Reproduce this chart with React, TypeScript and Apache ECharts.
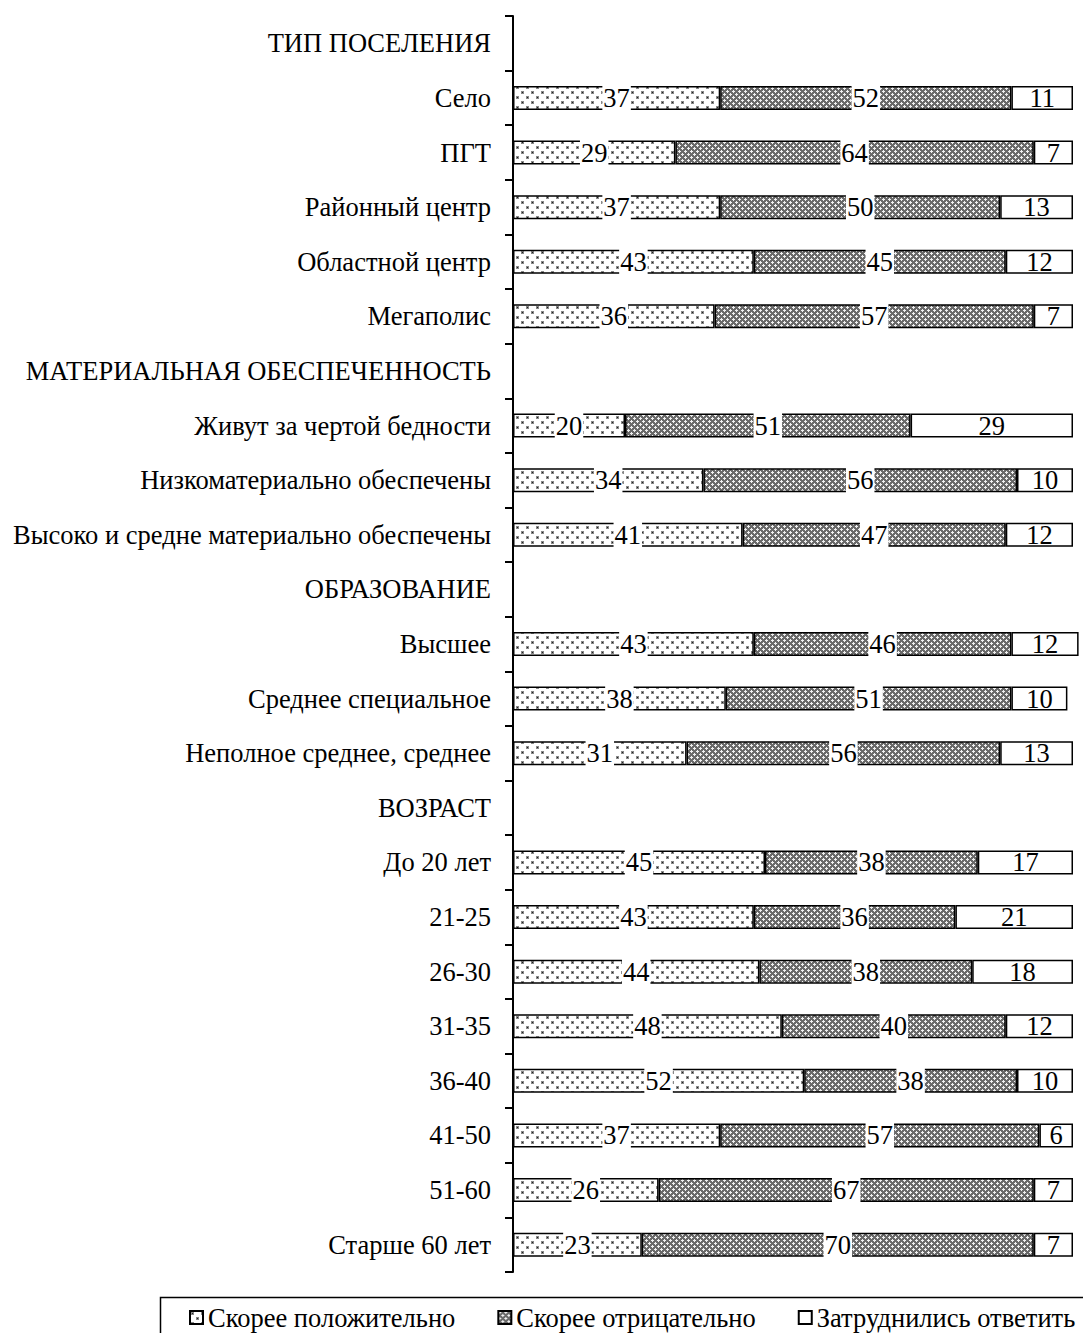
import React, { useEffect, useRef } from "react";
import * as echarts from "echarts";

const categories = [
  "ТИП ПОСЕЛЕНИЯ",
  "Село",
  "ПГТ",
  "Районный центр",
  "Областной центр",
  "Мегаполис",
  "МАТЕРИАЛЬНАЯ ОБЕСПЕЧЕННОСТЬ",
  "Живут за чертой бедности",
  "Низкоматериально обеспечены",
  "Высоко и средне материально обеспечены",
  "ОБРАЗОВАНИЕ",
  "Высшее",
  "Среднее специальное",
  "Неполное среднее, среднее",
  "ВОЗРАСТ",
  "До 20 лет",
  "21-25",
  "26-30",
  "31-35",
  "36-40",
  "41-50",
  "51-60",
  "Старше 60 лет",
];

const positive = [null, 37, 29, 37, 43, 36, null, 20, 34, 41, null, 43, 38, 31, null, 45, 43, 44, 48, 52, 37, 26, 23];
const negative = [null, 52, 64, 50, 45, 57, null, 51, 56, 47, null, 46, 51, 56, null, 38, 36, 38, 40, 38, 57, 67, 70];
const undecided = [null, 11, 7, 13, 12, 7, null, 29, 10, 12, null, 12, 10, 13, null, 17, 21, 18, 12, 10, 6, 7, 7];

const seriesNames = ["Скорее положительно", "Скорее отрицательно", "Затруднились ответить"];

function dotPattern(): HTMLCanvasElement {
  const c = document.createElement("canvas");
  c.width = 10;
  c.height = 10;
  const ctx = c.getContext("2d")!;
  ctx.fillStyle = "#ffffff";
  ctx.fillRect(0, 0, 10, 10);
  ctx.fillStyle = "#888888";
  ctx.fillRect(1, 1, 3, 3);
  ctx.fillRect(6, 6, 3, 3);
  ctx.fillStyle = "#222222";
  ctx.fillRect(2, 2, 1, 1);
  ctx.fillRect(7, 7, 1, 1);
  return c;
}

function crossPattern(): HTMLCanvasElement {
  const c = document.createElement("canvas");
  c.width = 6;
  c.height = 6;
  const ctx = c.getContext("2d")!;
  ctx.fillStyle = "#6a6a6a";
  ctx.fillRect(0, 0, 6, 6);
  ctx.fillStyle = "#f0f0f0";
  ctx.fillRect(0, 1, 3, 1);
  ctx.fillRect(1, 0, 1, 3);
  ctx.fillRect(3, 4, 3, 1);
  ctx.fillRect(4, 3, 1, 3);
  return c;
}

const FONT = "Liberation Serif";

export default function App() {
  const ref = useRef<HTMLDivElement>(null);
  useEffect(() => {
    document.body.style.margin = "0";
    const chart = echarts.init(ref.current!, null, { renderer: "svg" });
    const fills = [
      { image: dotPattern(), repeat: "repeat" },
      { image: crossPattern(), repeat: "repeat" },
      "#ffffff",
    ];
    const datas = [positive, negative, undecided];
    const series = datas.map((d, i) => ({
      name: seriesNames[i],
      type: "bar",
      stack: "total",
      barWidth: 24,
      clip: false,
      data: d,
      itemStyle: { color: fills[i] as any, borderColor: "#000", borderWidth: 1.5 },
      label: {
        show: true,
        position: "inside",
        color: "#000",
        fontFamily: FONT,
        fontSize: 26.5,
        backgroundColor: i < 2 ? "#ffffff" : "transparent",
        height: 27,
        lineHeight: 27,
        padding: [0, 1],
        formatter: (p: any) => (p.value == null ? "" : String(p.value)),
      },
    }));
    chart.setOption({
      animation: false,
      textStyle: { fontFamily: FONT },
      grid: { left: 513, right: 10, top: 16, bottom: 61, containLabel: false },
      xAxis: { type: "value", min: 0, max: 100, show: false },
      yAxis: {
        type: "category",
        data: categories,
        inverse: true,
        axisLine: { show: true, lineStyle: { color: "#000", width: 2 } },
        axisTick: { show: true, length: 8, lineStyle: { color: "#000", width: 2 } },
        axisLabel: { color: "#000", fontFamily: FONT, fontSize: 26.5, margin: 22 },
        splitLine: { show: false },
      },
      legend: {
        left: 184,
        top: 1299,
        icon: "rect",
        itemWidth: 13,
        itemHeight: 13,
        itemGap: 42,
        textStyle: { color: "#000", fontFamily: FONT, fontSize: 26.5 },
        data: seriesNames,
      },
      graphic: [
        {
          type: "rect",
          left: 158,
          top: 1295,
          shape: { width: 940, height: 50 },
          style: { fill: "none", stroke: "#000", lineWidth: 1.5 },
        },
      ],
      series,
    });
    return () => chart.dispose();
  }, []);
  return <div ref={ref} style={{ width: 1083, height: 1333 }} />;
}
